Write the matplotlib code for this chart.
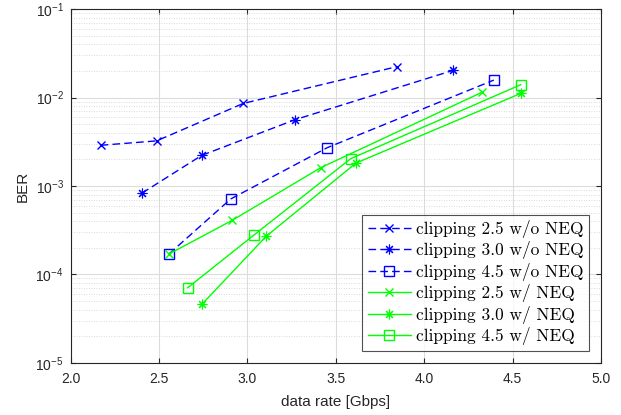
import numpy as np
import matplotlib
matplotlib.use("Agg")
import matplotlib.pyplot as plt
from matplotlib.ticker import LogLocator, FixedLocator, NullFormatter

plt.rcParams["font.family"] = ["Liberation Sans", "DejaVu Sans"]
plt.rcParams["mathtext.fontset"] = "custom"
plt.rcParams["mathtext.rm"] = "Liberation Sans"

# data
rate_25_wo = [2.17, 2.486, 2.976, 3.844]
ber_25_wo = [2.89e-3, 3.24e-3, 8.6e-3, 2.24e-2]
rate_30_wo = [2.403, 2.741, 3.269, 4.164]
ber_30_wo = [8.3e-4, 2.22e-3, 5.63e-3, 2.04e-2]
rate_45_wo = [2.556, 2.905, 3.452, 4.393]
ber_45_wo = [1.70e-4, 7.13e-4, 2.72e-3, 1.58e-2]

rate_25_w = [2.556, 2.914, 3.414, 4.326]
ber_25_w = [1.70e-4, 4.09e-4, 1.61e-3, 1.15e-2]
rate_30_w = [2.743, 3.106, 3.614, 4.547]
ber_30_w = [4.6e-5, 2.7e-4, 1.82e-3, 1.12e-2]
rate_45_w = [2.662, 3.035, 3.584, 4.545]
ber_45_w = [7.06e-5, 2.77e-4, 2.04e-3, 1.40e-2]

labels = ["clipping 2.5 w/o NEQ", "clipping 3.0 w/o NEQ", "clipping 4.5 w/o NEQ",
          "clipping 2.5 w/ NEQ", "clipping 3.0 w/ NEQ", "clipping 4.5 w/ NEQ"]

fig = plt.figure(figsize=(6.21, 4.15), dpi=100)
ax = fig.add_axes([0.1138, 0.126, 0.968 - 0.1138, 0.9776 - 0.126])

blue = (0, 0, 1)
green = (0, 1, 0)
star = (8, 2, 0)  # matlab-like asterisk
dash = (5.5, 3)

ax.semilogy(rate_25_wo, ber_25_wo, "--", dashes=dash, color=blue, marker="x", ms=6, lw=1, label=labels[0])
ax.semilogy(rate_30_wo, ber_30_wo, "--", dashes=dash, color=blue, marker=star, ms=7, mew=0.8, lw=1, label=labels[1])
ax.semilogy(rate_45_wo, ber_45_wo, "--", dashes=dash, color=blue, marker="s", ms=7, mfc="none", lw=1, label=labels[2])
ax.semilogy(rate_25_w, ber_25_w, "-", color=green, marker="x", ms=6, lw=1, label=labels[3])
ax.semilogy(rate_30_w, ber_30_w, "-", color=green, marker=star, ms=7, mew=0.8, lw=1, label=labels[4])
ax.semilogy(rate_45_w, ber_45_w, "-", color=green, marker="s", ms=7, mfc="none", lw=1, label=labels[5])

ax.set_xlim(2.0, 5.0)
ax.set_ylim(1e-5, 1e-1)
ax.xaxis.set_major_locator(FixedLocator([2.0, 2.5, 3.0, 3.5, 4.0, 4.5, 5.0]))
ax.set_xticklabels(["2.0", "2.5", "3.0", "3.5", "4.0", "4.5", "5.0"])
ax.yaxis.set_major_locator(LogLocator(base=10, numticks=10))
ax.yaxis.set_minor_locator(LogLocator(base=10, subs=np.arange(2, 10), numticks=10))
ax.yaxis.set_minor_formatter(NullFormatter())

ax.grid(True, which="major", color="#dcdcdc", lw=0.8)
ax.grid(True, which="minor", axis="y", color="#cfcfcf", lw=0.6, ls=(0, (1, 2)))
ax.set_axisbelow(True)
ax.tick_params(which="both", direction="in", top=True, right=True, labelsize=10, colors="#262626")
ax.tick_params(axis="x", pad=7)
ax.tick_params(axis="y", pad=5)
ax.tick_params(which="minor", length=0)
for s in ax.spines.values():
    s.set_color("#262626")
    s.set_linewidth(0.8)

ax.set_xlabel("data rate [Gbps]", fontsize=11, color="#262626", labelpad=6)
ax.set_ylabel("BER", fontsize=11, color="#262626")

leg = ax.legend(loc="lower right", prop={"family": "cmr10", "size": 12.5},
                frameon=True, fancybox=False, edgecolor="#262626",
                borderaxespad=0.7, handlelength=2.5, labelspacing=0.2,
                borderpad=0.3, handletextpad=0.3)
leg.get_frame().set_linewidth(0.8)

fig.savefig("out.png", dpi=100)
